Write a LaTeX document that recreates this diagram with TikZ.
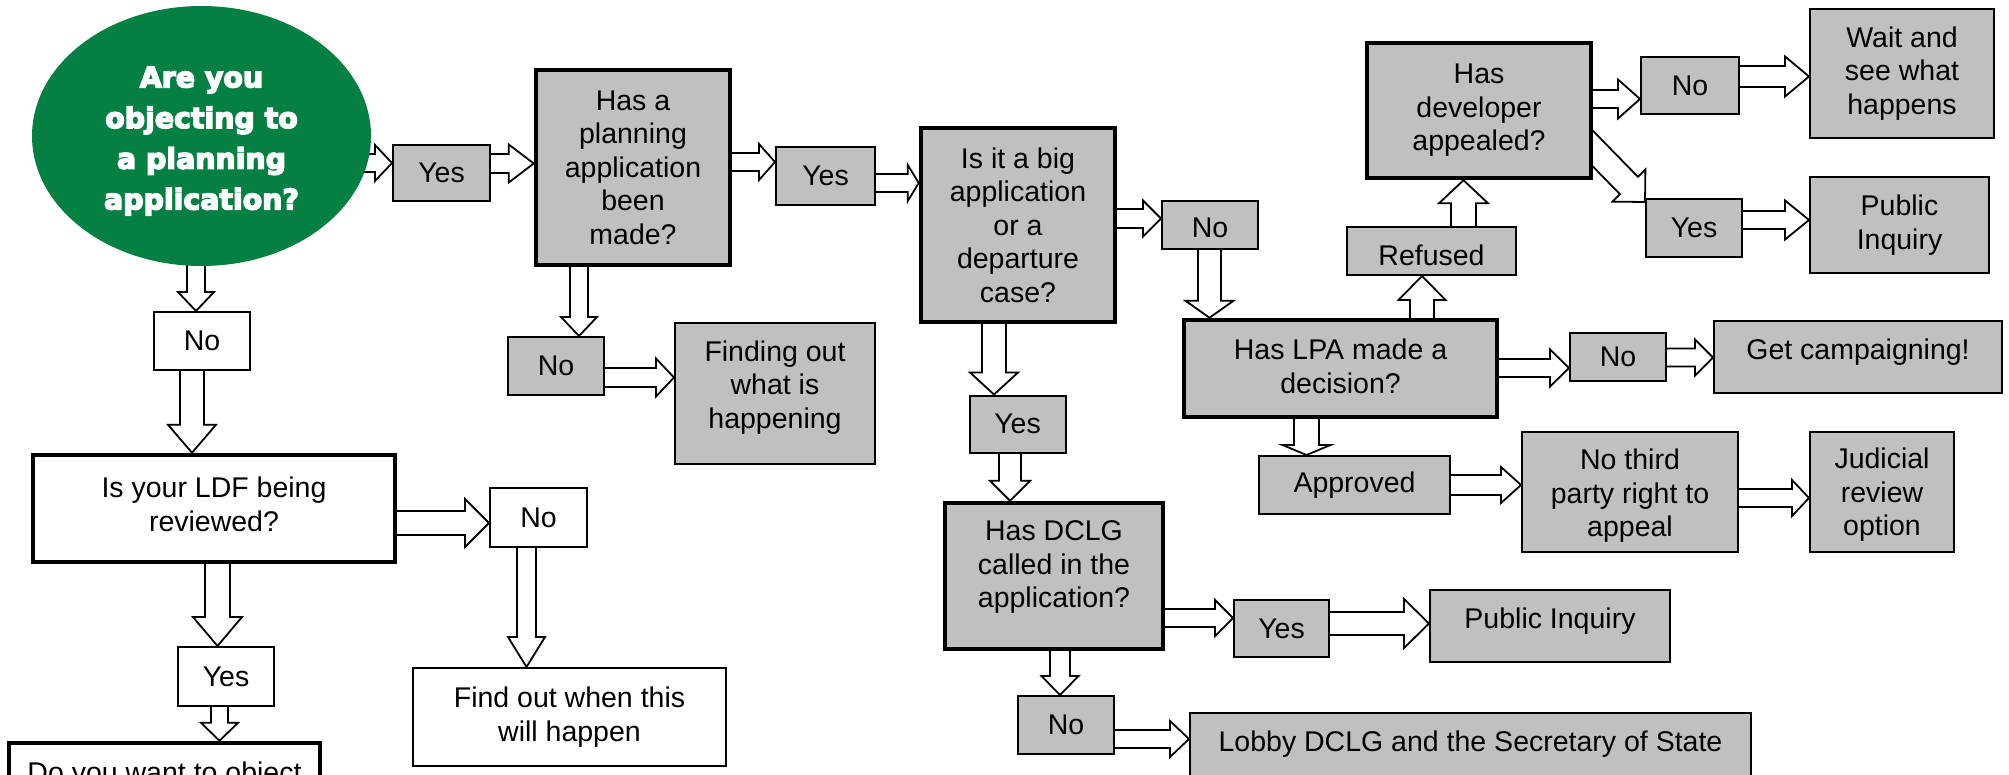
\documentclass[tikz,border=0pt]{standalone}
\usepackage{fontspec}
\setmainfont{Liberation Sans}
\newfontfamily\ellfont{DejaVu Sans}[BoldFeatures={FakeBold=5}]
\usetikzlibrary{calc,backgrounds,shapes.geometric}
\definecolor{boxgray}{RGB}{192,192,192}
\definecolor{plangreen}{RGB}{3,128,66}
\tikzset{
  box/.style={draw=black, line width=2pt, fill=boxgray, inner sep=0pt, align=center},
  qbox/.style={box, line width=4.5pt},
  wbox/.style={box, fill=white},
  wqbox/.style={qbox, fill=white},
  boxtext/.style={inner sep=0pt, align=center},
  blockarrow/.style={draw=black, fill=white, line width=1.8pt, line join=miter},
  startnode/.style={ellipse, fill=plangreen, inner sep=0pt},
  starttext/.style={boxtext, text=white, font=\ellfont\bfseries\fontsize{28.4}{40.7}\selectfont}
}
% block arrow: start, tip, shaft half width, head half width, head length
\newcommand\barrow[5]{%
  \coordinate (ba) at (#1);
  \coordinate (bb) at (#2);
  \coordinate (bc) at ($(bb)!#5pt!(ba)$);
  \draw[blockarrow] ($(ba)!#3pt!90:(bb)$) -- ($(bc)!#3pt!90:(bb)$) -- ($(bc)!#4pt!90:(bb)$)
    -- (bb) -- ($(bc)!#4pt!-90:(bb)$) -- ($(bc)!#3pt!-90:(bb)$) -- ($(ba)!#3pt!-90:(bb)$) -- cycle;
}
\begin{document}
\begin{tikzpicture}[x=1pt,y=-1pt,font=\fontsize{28.5}{33.5}\selectfont]
\useasboundingbox (0,0) rectangle (2009,774);
% nodes
\node[startnode, minimum width=339pt, minimum height=260pt] (ell) at (201.5,136) {};
\node[starttext] (ell-t) at ($(ell)+(0,5)$) {Are you\\objecting to\\a planning\\application?};
\node[box, minimum width=97pt, minimum height=56pt] (yes1) at (441.5,173) {Yes};
\node[qbox, minimum width=194pt, minimum height=195pt] (q1) at (633,167.5) {Has a\\planning\\application\\been\\made?};
\node[box, minimum width=99pt, minimum height=58pt] (yes2) at (825.5,176) {Yes};
\node[qbox, minimum width=194pt, minimum height=194pt] (q2) at (1018,225) {Is it a big\\application\\or a\\departure\\case?};
\node[box, minimum width=96pt, minimum height=48pt] (no2) at (1210,225) {};
\node[boxtext] (no2-t) at ($(no2)+(0,3)$) {No};
\node[qbox, minimum width=313pt, minimum height=97pt] (lpa) at (1340.5,368.5) {};
\node[boxtext] (lpa-t) at ($(lpa)+(0,-2)$) {Has LPA made a\\decision?};
\node[box, minimum width=169pt, minimum height=48pt] (refused) at (1431.5,251) {};
\node[boxtext] (refused-t) at ($(refused)+(0,4)$) {Refused};
\node[qbox, minimum width=224pt, minimum height=135pt] (dev) at (1479,110.5) {Has\\developer\\appealed?};
\node[box, minimum width=98pt, minimum height=57pt] (no3) at (1690,85.5) {No};
\node[box, minimum width=184pt, minimum height=129pt] (wait) at (1902,73.5) {Wait and\\see what\\happens};
\node[box, minimum width=96pt, minimum height=58pt] (yes4) at (1694,228) {Yes};
\node[box, minimum width=179pt, minimum height=96pt] (pi1) at (1899.5,225) {Public\\Inquiry};
\node[box, minimum width=288pt, minimum height=72pt] (getc) at (1858,357) {};
\node[boxtext] (getc-t) at ($(getc)+(0,-5)$) {Get campaigning!};
\node[box, minimum width=96pt, minimum height=48pt] (no4) at (1618,357) {No};
\node[box, minimum width=191pt, minimum height=58pt] (appr) at (1354.5,485) {Approved};
\node[box, minimum width=216pt, minimum height=120pt] (noth) at (1630,492) {};
\node[boxtext] (noth-t) at ($(noth)+(0,4)$) {No third\\party right to\\appeal};
\node[box, minimum width=144pt, minimum height=120pt] (jud) at (1882,492) {};
\node[boxtext] (jud-t) at ($(jud)+(0,3)$) {Judicial\\review\\option};
\node[box, minimum width=96pt, minimum height=57pt] (yesb) at (1017.5,424) {Yes};
\node[qbox, minimum width=218pt, minimum height=146pt] (dclg) at (1054,576) {};
\node[boxtext] (dclg-t) at ($(dclg)+(0,-9)$) {Has DCLG\\called in the\\application?};
\node[box, minimum width=95pt, minimum height=57pt] (yes5) at (1281.5,628.5) {Yes};
\node[box, minimum width=240pt, minimum height=72pt] (pi2) at (1550,626) {};
\node[boxtext] (pi2-t) at ($(pi2)+(0,-5)$) {Public Inquiry};
\node[box, minimum width=96pt, minimum height=58pt] (no5) at (1066,725) {No};
\node[box, minimum width=561pt, minimum height=72pt] (lobby) at (1470.5,749) {};
\node[boxtext] (lobby-t) at ($(lobby)+(0,-5)$) {Lobby DCLG and the Secretary of State};
\node[wbox, minimum width=96pt, minimum height=58pt] (noA) at (202,341) {No};
\node[wqbox, minimum width=362pt, minimum height=107pt] (ldf) at (214,508.5) {};
\node[boxtext] (ldf-t) at ($(ldf)+(0,-4)$) {Is your LDF being\\reviewed?};
\node[wbox, minimum width=97pt, minimum height=59pt] (noB) at (538.5,517.5) {No};
\node[wbox, minimum width=313pt, minimum height=98pt] (find) at (569.5,717) {Find out when this\\will happen};
\node[wbox, minimum width=96pt, minimum height=59pt] (yesA) at (226,676.5) {Yes};
\node[wqbox, minimum width=311pt, minimum height=64pt] (dowant) at (164.5,775) {Do you want to object};
\node[box, minimum width=96pt, minimum height=58pt] (noP) at (556,366) {No};
\node[box, minimum width=200pt, minimum height=141pt] (finding) at (775,393.5) {};
\node[boxtext] (finding-t) at ($(finding)+(0,-6)$) {Finding out\\what is\\happening};
% connectors
\begin{pgfonlayer}{background}
\barrow{ell |- 0,163}{yes1.west |- 0,163}{9}{18}{17}
\barrow{yes1 |- 0,163.5}{q1.west |- 0,163.5}{9.5}{19}{25}
\barrow{q1 |- 0,162}{yes2.west |- 0,162}{9}{18}{16}
\barrow{yes2 |- 0,183}{q2.west |- 0,183}{9}{18}{11}
\barrow{q2 |- 0,218.5}{no2.west |- 0,218.5}{9.5}{18}{18}
\barrow{1209.5,0 |- no2}{1209.5,0 |- lpa.north}{11.5}{24}{17}
\barrow{1422,0 |- lpa}{1422,0 |- refused.south}{12}{23.5}{24}
\barrow{1463.5,0 |- refused}{1463.5,0 |- dev.south}{12.5}{24.5}{23}
\barrow{dev |- 0,99}{no3.west |- 0,99}{9}{19.5}{22}
\barrow{no3 |- 0,76.5}{wait.west |- 0,76.5}{10.5}{20}{24}
\barrow{$(dev.south east)+(-31,-63)$}{$(yes4.north west)+(0,4)$}{12.5}{23}{23}
\barrow{yes4 |- 0,220}{pi1.west |- 0,220}{9}{19.5}{24}
\barrow{lpa |- 0,368}{no4.west |- 0,368}{9}{18.5}{19}
\barrow{no4 |- 0,357.5}{getc.west |- 0,357.5}{9}{18}{18}
\barrow{1306.5,0 |- lpa}{1306.5,0 |- appr.north}{12.5}{24}{10}
\barrow{appr |- 0,485}{noth.west |- 0,485}{10}{18}{20}
\barrow{noth |- 0,498}{jud.west |- 0,498}{9}{18}{17}
\barrow{994,0 |- q2}{994,0 |- yesb.north}{12}{24}{22}
\barrow{1010,0 |- yesb}{1010,0 |- dclg.north}{11}{20}{20}
\barrow{dclg |- 0,618}{yes5.west |- 0,618}{9}{18}{18}
\barrow{yes5 |- 0,623.5}{pi2.west |- 0,623.5}{11.5}{24.5}{25}
\barrow{1060,0 |- dclg}{1060,0 |- no5.north}{10}{18.5}{19}
\barrow{no5 |- 0,739}{lobby.west |- 0,739}{9}{18}{19}
\barrow{196,0 |- ell}{196,0 |- noA.north}{9}{18}{19}
\barrow{192,0 |- noA}{192,0 |- ldf.north}{12}{24}{28}
\barrow{ldf |- 0,523}{noB.west |- 0,523}{12}{24}{24}
\barrow{526.5,0 |- noB}{526.5,0 |- find.north}{9.5}{18.5}{30}
\barrow{217.5,0 |- ldf}{217.5,0 |- yesA.north}{12.5}{24.5}{29}
\barrow{219.5,0 |- yesA}{219.5,0 |- dowant.north}{8.5}{18.5}{18}
\barrow{579,0 |- q1}{579,0 |- noP.north}{9}{18}{19}
\barrow{noP |- 0,377.5}{finding.west |- 0,377.5}{9.5}{19}{18}
\end{pgfonlayer}
\end{tikzpicture}
\end{document}
